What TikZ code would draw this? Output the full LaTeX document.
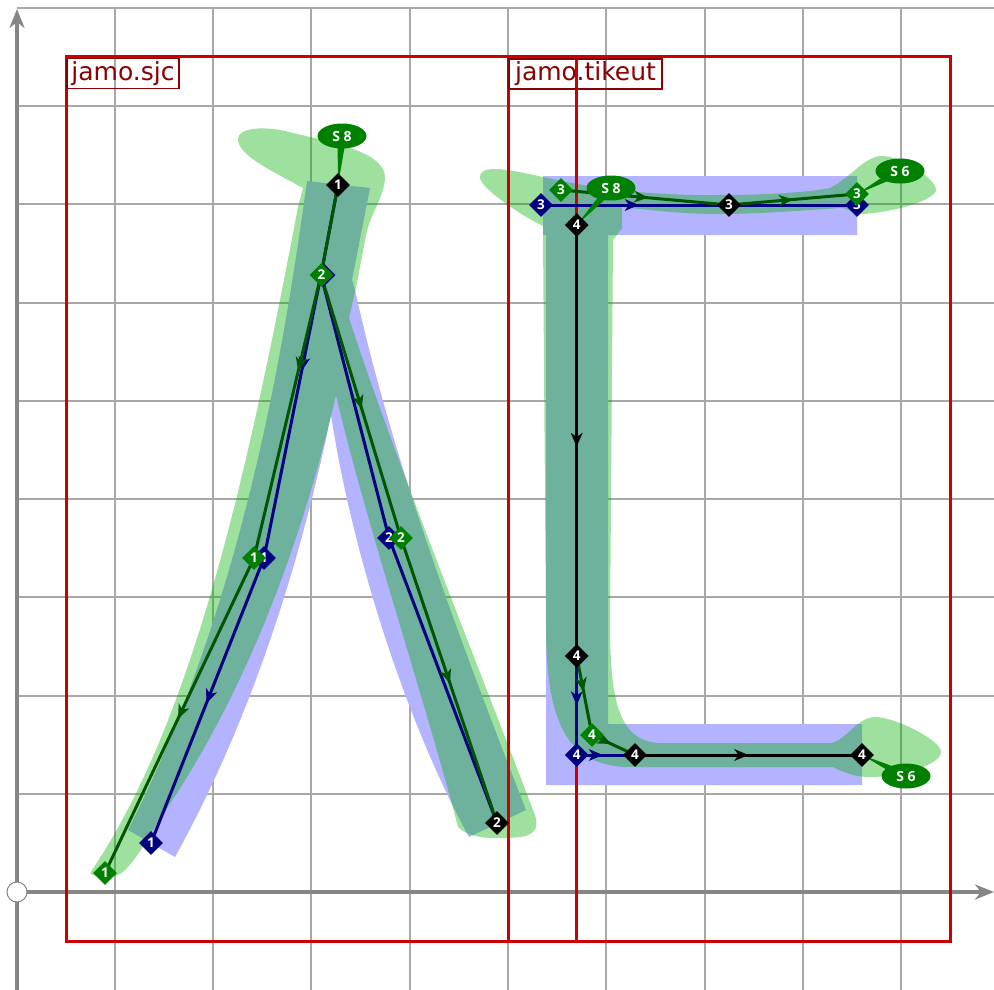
\documentclass[tikz,border=0pt]{standalone}
\usepackage{fontspec}
\setmainfont{DejaVu Sans}
\newfontfamily\numfont{Open Sans}
\usetikzlibrary{shapes.geometric,arrows.meta,calc,decorations.markings}
\definecolor{gridc}{HTML}{A8A8A8}
\definecolor{axisc}{HTML}{868686}
\definecolor{blueshape}{HTML}{B3B3FF}
\definecolor{greenshape}{RGB}{0,178,0}
\definecolor{redbox}{HTML}{CC0000}
\definecolor{labelc}{HTML}{8B0000}
\definecolor{dgreen}{HTML}{005500}
\definecolor{navyc}{HTML}{000080}
\definecolor{greenc}{HTML}{008000}
\tikzset{
  x=1pt,y=-1pt,
  gridline/.style={draw=gridc,line width=1.5pt},
  axisline/.style={draw=axisc,line width=4.5pt},
  axisarrow/.style={axisline,-{Stealth[inset=6pt,length=19pt,width=15pt]}},
  origin/.style={circle,draw=axisc,fill=white,line width=1pt,minimum size=20pt,inner sep=0pt},
  redframe/.style={draw=redbox,line width=3pt},
  tag/.style={draw=labelc,line width=1.8pt,text=labelc,font=\fontsize{25}{25}\selectfont,inner sep=0pt,minimum height=30pt,anchor=center},
  pt/.style={diamond,aspect=1,minimum size=24pt,inner sep=0pt,text=white,font=\numfont\bfseries\fontsize{13.5}{13.5}\selectfont},
  ptblack/.style={pt,fill=black},
  ptgreen/.style={pt,fill=greenc},
  ptblue/.style={pt,fill=navyc},
  sbubble/.style={ellipse,fill=greenc,text=white,font=\numfont\bfseries\fontsize{14}{14}\selectfont,minimum width=49pt,minimum height=25pt,inner sep=0pt},
  bluel/.style={draw=navyc,line width=3pt},
  greenl/.style={draw=dgreen,line width=3pt},
  blackl/.style={draw=black,line width=3pt},
  arrat/.style={postaction={decorate,decoration={markings,mark=at position #1 with {\arrow{Stealth[inset=4pt,length=14pt,width=11.5pt]}}}}},
}
\newcommand{\tailto}[2]{\fill[greenc] ($(#1)!4.5pt!90:(#2)$) -- (#2) -- ($(#1)!4.5pt!-90:(#2)$) -- cycle;}
\begin{document}
\begin{tikzpicture}
\useasboundingbox (0,0) rectangle (994,990);
\fill[white] (0,0) rectangle (994,990);
% grid
\foreach \gx in {115,213,311,410,508,606,705,803,901}
  \draw[gridline] (\gx,8) -- (\gx,990);
\foreach \gy in {8,106,204,303,401,499,597,696,794}
  \draw[gridline] (17,\gy) -- (994,\gy);
% axes
\coordinate (oc) at (17,892);
\coordinate (xend) at (994,892);
\coordinate (yend) at (17,9);
\coordinate (ybot) at (17,990);
\draw[axisarrow] (oc) -- (xend);
\draw[axisarrow] (ybot) -- (yend);
\node[origin] (o) at (oc) {};
% blue shapes
\fill[blueshape] (307,181) .. controls (285,340) and (245,600) .. (128,830)
  -- (175,857) .. controls (240,740) and (295,590) .. (331,415)
  .. controls (350,540) and (400,710) .. (469,837)
  -- (526,810) .. controls (460,640) and (395,470) .. (355,290)
  -- (352,280) -- (370,188) -- cycle;
\fill[blueshape] (543,176) -- (857,176) -- (857,235) -- (608,235) -- (608,724) -- (862,724) -- (862,785) -- (546,785) -- (546,235) -- (543,235) -- cycle;
% green shapes
\fill[greenshape,opacity=.38] (303,188) .. controls (270,170) and (238,155) .. (238,139)
  .. controls (238,128) and (262,126) .. (285,131)
  .. controls (320,140) and (385,150) .. (385,177)
  .. controls (385,195) and (370,215) .. (366,235)
  -- (357,283) -- (349,318)
  .. controls (395,460) and (480,670) .. (533,810)
  .. controls (540,825) and (537,835) .. (520,837)
  .. controls (500,839) and (470,840) .. (458,827)
  .. controls (425,700) and (365,520) .. (336,395)
  .. controls (305,530) and (250,690) .. (157,823)
  .. controls (145,845) and (130,868) .. (120,874)
  .. controls (110,879) and (95,878) .. (90,873)
  .. controls (195,720) and (250,460) .. (298,207)
  -- cycle;
\fill[greenshape,opacity=.38] (543,177)
  .. controls (600,190) and (660,196) .. (720,195)
  .. controls (770,195) and (810,192) .. (830,188)
  .. controls (850,178) and (865,156) .. (882,156)
  .. controls (900,156) and (936,178) .. (936,190)
  .. controls (936,200) and (890,214) .. (857,214)
  .. controls (850,212) and (848,208) .. (840,208)
  .. controls (810,210) and (760,214) .. (720,214)
  .. controls (680,214) and (650,210) .. (622,207)
  -- (622,228) -- (613,240) -- (610,630)
  .. controls (611,690) and (615,742) .. (660,743)
  -- (832,743)
  .. controls (848,738) and (858,717) .. (875,717)
  .. controls (895,717) and (941,740) .. (941,752)
  .. controls (941,765) and (900,777) .. (870,777)
  .. controls (855,777) and (845,773) .. (833,767)
  -- (630,767) .. controls (560,767) and (547,710) .. (546,630)
  -- (543,235) -- (543,226)
  .. controls (520,215) and (481,188) .. (480,178)
  .. controls (479,172) and (485,169) .. (495,169)
  .. controls (505,169) and (520,172) .. (543,177) -- cycle;
% frames
\draw[redframe] (66,57) rectangle (576.7,941);
\draw[redframe] (508,57) rectangle (950,941);
\node[tag,minimum width=112pt] (lsjc) at (123,73.5) {jamo.sjc};
\node[tag,minimum width=153pt] (ltik) at (585.5,74) {jamo.tikeut};
% anchor points
\coordinate (b1a) at (338,185);
\coordinate (b2a) at (321,275);
\coordinate (bk1) at (264,558);
\coordinate (bk2) at (151,843);
\coordinate (bk3) at (389,538);
\coordinate (bk4) at (497,823);
\coordinate (gk1) at (254,558);
\coordinate (gk2) at (105,873);
\coordinate (gk3) at (401,538);
\coordinate (bb1) at (541,205);
\coordinate (bb2) at (857,205);
\coordinate (gb1) at (561,190);
\coordinate (gb2) at (729,205);
\coordinate (gb3) at (857,194);
\coordinate (kc1) at (576.7,225);
\coordinate (kc2) at (576.7,656);
\coordinate (bc3) at (576.7,755);
\coordinate (gc3) at (592,735);
\coordinate (kc4) at (635,755);
\coordinate (kc5) at (862,755);
\coordinate (s1c) at (342,136);
\coordinate (s2c) at (611,188);
\coordinate (s3c) at (900,171);
\coordinate (s4c) at (906,776);
% blue connectors
\draw[bluel] (b1a) -- (b2a);
\draw[bluel,arrat=.34] (b2a) -- (bk1);
\draw[bluel,arrat=.51] (bk1) -- (bk2);
\draw[bluel] (b2a) -- (bk3);
\draw[bluel] (bk3) -- (bk4);
\draw[bluel,arrat=.31] (bb1) -- (bb2);
\draw[bluel,arrat=.5] (kc2) -- (bc3);
\draw[bluel,arrat=.45] (bc3) -- (kc4);
% green connectors
\draw[greenl] (b1a) -- (b2a);
\draw[greenl,arrat=.34] (b2a) -- (gk1);
\draw[greenl,arrat=.51] (gk1) -- (gk2);
\draw[greenl,arrat=.51] (b2a) -- (gk3);
\draw[greenl,arrat=.51] (gk3) -- (bk4);
\draw[greenl,arrat=.52] (gb1) -- (gb2);
\draw[greenl,arrat=.5] (gb2) -- (gb3);
\draw[greenl,arrat=.45] (kc2) -- (gc3);
\draw[greenl,arrat=.45] (gc3) -- (kc4);
% black connectors
\draw[blackl,arrat=.515] (kc1) -- (kc2);
\draw[blackl,arrat=.5] (kc4) -- (kc5);
% tails of the stroke-width bubbles
\tailto{s1c}{b1a}
\tailto{s2c}{kc1}
\tailto{s3c}{gb3}
\tailto{s4c}{kc5}
% blue points
\node[ptblue] (nb1) at (bk2) {1};
\node[ptblue] (nb2) at (bk1) {1};
\node[ptblue] (nb3) at (323.5,275) {};
\node[ptblue] (nb4) at (bk3) {2};
\node[ptblue] (nb5) at (bb1) {3};
\node[ptblue] (nb6) at (bb2) {3};
\node[ptblue] (nb7) at (bc3) {4};
% green points
\node[ptgreen] (ng1) at (gk2) {1};
\node[ptgreen] (ng2) at (gk1) {1};
\node[ptgreen] (ng3) at (321.5,275) {2};
\node[ptgreen] (ng4) at (gk3) {2};
\node[ptgreen] (ng5) at (gb1) {3};
\node[ptgreen] (ng6) at (gb3) {3};
\node[ptgreen] (ng7) at (gc3) {4};
% black points
\node[ptblack] (nk1) at (b1a) {1};
\node[ptblack] (nk2) at (bk4) {2};
\node[ptblack] (nk3) at (gb2) {3};
\node[ptblack] (nk4) at (kc1) {4};
\node[ptblack] (nk5) at (kc2) {4};
\node[ptblack] (nk6) at (kc4) {4};
\node[ptblack] (nk7) at (kc5) {4};
% stroke-width bubbles
\node[sbubble] (s1) at (s1c) {S 8};
\node[sbubble] (s2) at (s2c) {S 8};
\node[sbubble] (s3) at (s3c) {S 6};
\node[sbubble] (s4) at (s4c) {S 6};
\end{tikzpicture}
\end{document}
